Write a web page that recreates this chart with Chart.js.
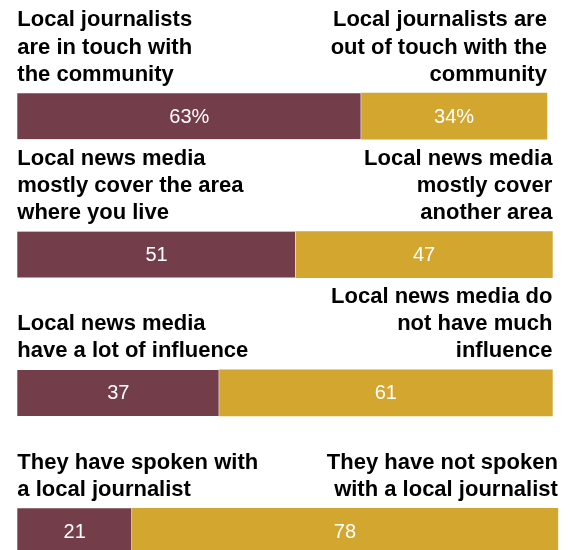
<!DOCTYPE html>
<html>
<head>
<meta charset="utf-8">
<style>
  html, body { margin: 0; padding: 0; background: #fff; overflow: hidden; }
  canvas { display: block; }
</style>
<script src="https://cdn.jsdelivr.net/npm/chart.js@4/dist/chart.umd.min.js"></script>
</head>
<body>
<canvas id="chart" width="573" height="550"></canvas>
<script>
// Row keys (one stacked bar per statement pair)
const rows = ['touch', 'coverage', 'influence', 'spoken'];

// Caption above the left (maroon) segment, one line per entry
const leftCaptions = [
  ['Local journalists', 'are in touch with', 'the community'],
  ['Local news media', 'mostly cover the area', 'where you live'],
  ['Local news media', 'have a lot of influence'],
  ['They have spoken with', 'a local journalist']
];

// Caption above the right (gold) segment
const rightCaptions = [
  ['Local journalists are', 'out of touch with the', 'community'],
  ['Local news media', 'mostly cover', 'another area'],
  ['Local news media do', 'not have much', 'influence'],
  ['They have not spoken', 'with a local journalist']
];

// Percent of respondents
const leftValues = [63, 51, 37, 21];
const rightValues = [34, 47, 61, 78];

// Unit shown after each row's numbers
const valueSuffix = ['%', '', '', ''];

const MAROON = '#733d4a';
const GOLD = '#d3a630';

const captionPlugin = {
  id: 'captions',
  afterDatasetsDraw(chart) {
    const ctx = chart.ctx;
    const leftMeta = chart.getDatasetMeta(0);
    const rightMeta = chart.getDatasetMeta(1);
    const lineH = 27.2;
    ctx.save();

    rows.forEach((key, i) => {
      const a = leftMeta.data[i];
      const b = rightMeta.data[i];
      const barTop = a.y - a.height / 2;
      const lastBase = barTop - 12.5;

      // segment values
      ctx.fillStyle = '#ffffff';
      ctx.font = '20px "Liberation Sans", Arial, sans-serif';
      ctx.textAlign = 'center';
      ctx.textBaseline = 'middle';
      ctx.fillText(leftValues[i] + valueSuffix[i], (a.x + a.base) / 2, a.y + 1);
      ctx.fillText(rightValues[i] + valueSuffix[i], (b.x + b.base) / 2, b.y + 1);

      // captions
      ctx.fillStyle = '#000000';
      ctx.font = 'bold 22px "Liberation Sans", Arial, sans-serif';
      ctx.textBaseline = 'alphabetic';

      ctx.textAlign = 'left';
      const L = leftCaptions[i];
      L.forEach((line, k) => {
        ctx.fillText(line, chart.chartArea.left, lastBase - (L.length - 1 - k) * lineH);
      });

      ctx.textAlign = 'right';
      const R = rightCaptions[i];
      R.forEach((line, k) => {
        ctx.fillText(line, b.x, lastBase - (R.length - 1 - k) * lineH);
      });
    });

    ctx.restore();
  }
};

new Chart(document.getElementById('chart'), {
  type: 'bar',
  data: {
    labels: rows,
    datasets: [
      {
        data: leftValues,
        backgroundColor: MAROON,
        borderColor: 'rgba(255,255,255,0.45)',
        borderWidth: { top: 0, bottom: 0, left: 0, right: 1 },
        borderSkipped: false,
        barThickness: 46,
        clip: false
      },
      {
        data: rightValues,
        backgroundColor: GOLD,
        borderWidth: 0,
        barThickness: 46,
        clip: false
      }
    ]
  },
  options: {
    indexAxis: 'y',
    responsive: false,
    animation: false,
    events: [],
    layout: { padding: { left: 17.3, right: 9.7, top: 116.2, bottom: 18.7 } },
    scales: {
      x: { stacked: true, min: 0, max: 100, display: false },
      y: { stacked: true, display: false, offset: false }
    },
    plugins: {
      legend: { display: false },
      tooltip: { enabled: false }
    }
  },
  plugins: [captionPlugin]
});
</script>
</body>
</html>
